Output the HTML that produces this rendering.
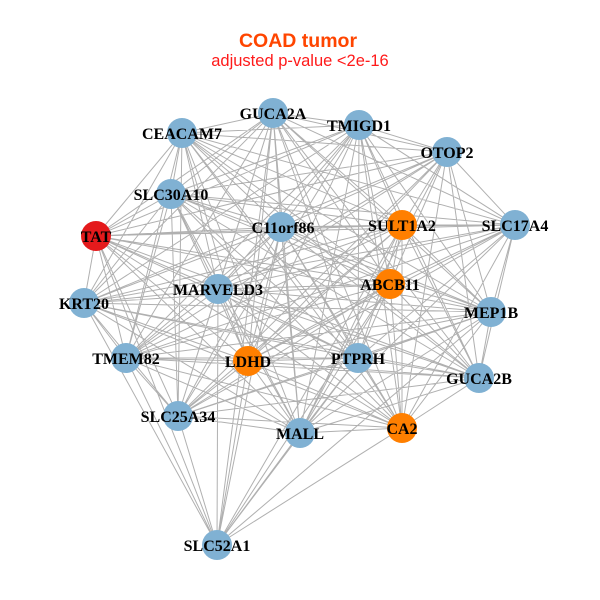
<!DOCTYPE html>
<html><head><meta charset="utf-8"><style>
html,body{margin:0;padding:0;background:#fff;}
svg{display:block;}
.l{font-family:"Liberation Serif","DejaVu Serif",serif;font-weight:bold;font-size:16px;fill:#000;text-anchor:middle;}
</style></head><body>
<svg width="600" height="600" viewBox="0 0 600 600" xmlns="http://www.w3.org/2000/svg">
<rect width="600" height="600" fill="#fff"/>
<text x="298" y="47" text-anchor="middle" font-family="'Liberation Sans',Arial,sans-serif" font-weight="bold" font-size="19.5" fill="#FF4500">COAD tumor</text>
<text x="300" y="66" text-anchor="middle" font-family="'Liberation Sans',Arial,sans-serif" font-size="16.5" fill="#FF1A1A">adjusted p-value &lt;2e-16</text>
<path fill="none" stroke="#b0b0b0" stroke-width="1" d="
M273 113L359 125M273 113L182 133M273 113L447 152M273 113L171 194M273 113L281 227M273 113L402 225M273 113L515 225M273 113L96 236M273 113L218 289M273 113L390 284M273 113L84 303M273 113L491 312M273 113L126 358M273 113L248 361M273 113L358 358M273 113L479 378M273 113L178 416M273 113L300 433M273 113L402 428M273 113L217 545
M359 125L182 133M359 125L447 152M359 125L171 194M359 125L281 227M359 125L402 225M359 125L515 225M359 125L96 236M359 125L218 289M359 125L390 284M359 125L84 303M359 125L491 312M359 125L126 358M359 125L248 361M359 125L358 358M359 125L479 378M359 125L178 416M359 125L300 433M359 125L402 428
M182 133L447 152M182 133L171 194M182 133L281 227M182 133L402 225M182 133L515 225M182 133L96 236M182 133L218 289M182 133L390 284M182 133L84 303M182 133L491 312M182 133L126 358M182 133L248 361M182 133L358 358M182 133L479 378M182 133L178 416M182 133L300 433M182 133L402 428
M447 152L171 194M447 152L281 227M447 152L402 225M447 152L515 225M447 152L96 236M447 152L218 289M447 152L390 284M447 152L84 303M447 152L491 312M447 152L126 358M447 152L248 361M447 152L358 358M447 152L479 378M447 152L178 416M447 152L300 433M447 152L402 428
M171 194L281 227M171 194L402 225M171 194L515 225M171 194L96 236M171 194L218 289M171 194L390 284M171 194L84 303M171 194L491 312M171 194L126 358M171 194L248 361M171 194L358 358M171 194L479 378M171 194L178 416M171 194L300 433M171 194L402 428
M281 227L402 225M281 227L515 225M281 227L96 236M281 227L218 289M281 227L390 284M281 227L84 303M281 227L491 312M281 227L126 358M281 227L248 361M281 227L358 358M281 227L479 378M281 227L178 416M281 227L300 433M281 227L402 428M281 227L217 545
M402 225L515 225M402 225L96 236M402 225L218 289M402 225L390 284M402 225L84 303M402 225L491 312M402 225L126 358M402 225L248 361M402 225L358 358M402 225L479 378M402 225L178 416M402 225L300 433M402 225L402 428M402 225L217 545
M515 225L96 236M515 225L218 289M515 225L390 284M515 225L84 303M515 225L491 312M515 225L126 358M515 225L248 361M515 225L358 358M515 225L479 378M515 225L178 416M515 225L300 433M515 225L402 428
M96 236L218 289M96 236L390 284M96 236L84 303M96 236L491 312M96 236L126 358M96 236L248 361M96 236L358 358M96 236L479 378M96 236L178 416M96 236L300 433M96 236L402 428M96 236L217 545
M218 289L390 284M218 289L84 303M218 289L491 312M218 289L126 358M218 289L248 361M218 289L358 358M218 289L479 378M218 289L178 416M218 289L300 433M218 289L402 428M218 289L217 545
M390 284L84 303M390 284L491 312M390 284L126 358M390 284L248 361M390 284L358 358M390 284L479 378M390 284L178 416M390 284L300 433M390 284L402 428M390 284L217 545
M84 303L491 312M84 303L126 358M84 303L248 361M84 303L358 358M84 303L479 378M84 303L178 416M84 303L300 433M84 303L402 428M84 303L217 545
M491 312L126 358M491 312L248 361M491 312L358 358M491 312L479 378M491 312L178 416M491 312L300 433M491 312L402 428M491 312L217 545
M126 358L248 361M126 358L358 358M126 358L479 378M126 358L178 416M126 358L300 433M126 358L402 428M126 358L217 545
M248 361L358 358M248 361L479 378M248 361L178 416M248 361L300 433M248 361L402 428M248 361L217 545
M358 358L479 378M358 358L178 416M358 358L300 433M358 358L402 428M358 358L217 545
M479 378L178 416M479 378L300 433M479 378L402 428
M178 416L300 433M178 416L402 428M178 416L217 545
M300 433L402 428M300 433L217 545
M402 428L217 545"/>
<g>
<circle cx="273" cy="113" r="15" fill="#80B1D3"/>
<circle cx="359" cy="125" r="15" fill="#80B1D3"/>
<circle cx="182" cy="133" r="15" fill="#80B1D3"/>
<circle cx="447" cy="152" r="15" fill="#80B1D3"/>
<circle cx="171" cy="194" r="15" fill="#80B1D3"/>
<circle cx="281" cy="227" r="15" fill="#80B1D3"/>
<circle cx="402" cy="225" r="15" fill="#FF7F00"/>
<circle cx="515" cy="225" r="15" fill="#80B1D3"/>
<circle cx="96" cy="236" r="15" fill="#E41A1C"/>
<circle cx="218" cy="289" r="15" fill="#80B1D3"/>
<circle cx="390" cy="284" r="15" fill="#FF7F00"/>
<circle cx="84" cy="303" r="15" fill="#80B1D3"/>
<circle cx="491" cy="312" r="15" fill="#80B1D3"/>
<circle cx="126" cy="358" r="15" fill="#80B1D3"/>
<circle cx="248" cy="361" r="15" fill="#FF7F00"/>
<circle cx="358" cy="358" r="15" fill="#80B1D3"/>
<circle cx="479" cy="378" r="15" fill="#80B1D3"/>
<circle cx="178" cy="416" r="15" fill="#80B1D3"/>
<circle cx="300" cy="433" r="15" fill="#80B1D3"/>
<circle cx="402" cy="428" r="15" fill="#FF7F00"/>
<circle cx="217" cy="545" r="15" fill="#80B1D3"/>
</g>
<g class="l">
<text class="l" x="273" y="119">GUCA2A</text>
<text class="l" x="359" y="131">TMIGD1</text>
<text class="l" x="182" y="139">CEACAM7</text>
<text class="l" x="447" y="158">OTOP2</text>
<text class="l" x="171" y="200">SLC30A10</text>
<text class="l" x="283" y="233">C11orf86</text>
<text class="l" x="402" y="231">SULT1A2</text>
<text class="l" x="515" y="231">SLC17A4</text>
<text class="l" x="96" y="242">TAT</text>
<text class="l" x="218" y="295">MARVELD3</text>
<text class="l" x="390" y="290">ABCB11</text>
<text class="l" x="84" y="309">KRT20</text>
<text class="l" x="491" y="318">MEP1B</text>
<text class="l" x="126" y="364">TMEM82</text>
<text class="l" x="248" y="367">LDHD</text>
<text class="l" x="358" y="364">PTPRH</text>
<text class="l" x="479" y="384">GUCA2B</text>
<text class="l" x="178" y="422">SLC25A34</text>
<text class="l" x="300" y="439">MALL</text>
<text class="l" x="402" y="434">CA2</text>
<text class="l" x="217" y="551">SLC52A1</text>
</g>
</svg>
</body></html>
